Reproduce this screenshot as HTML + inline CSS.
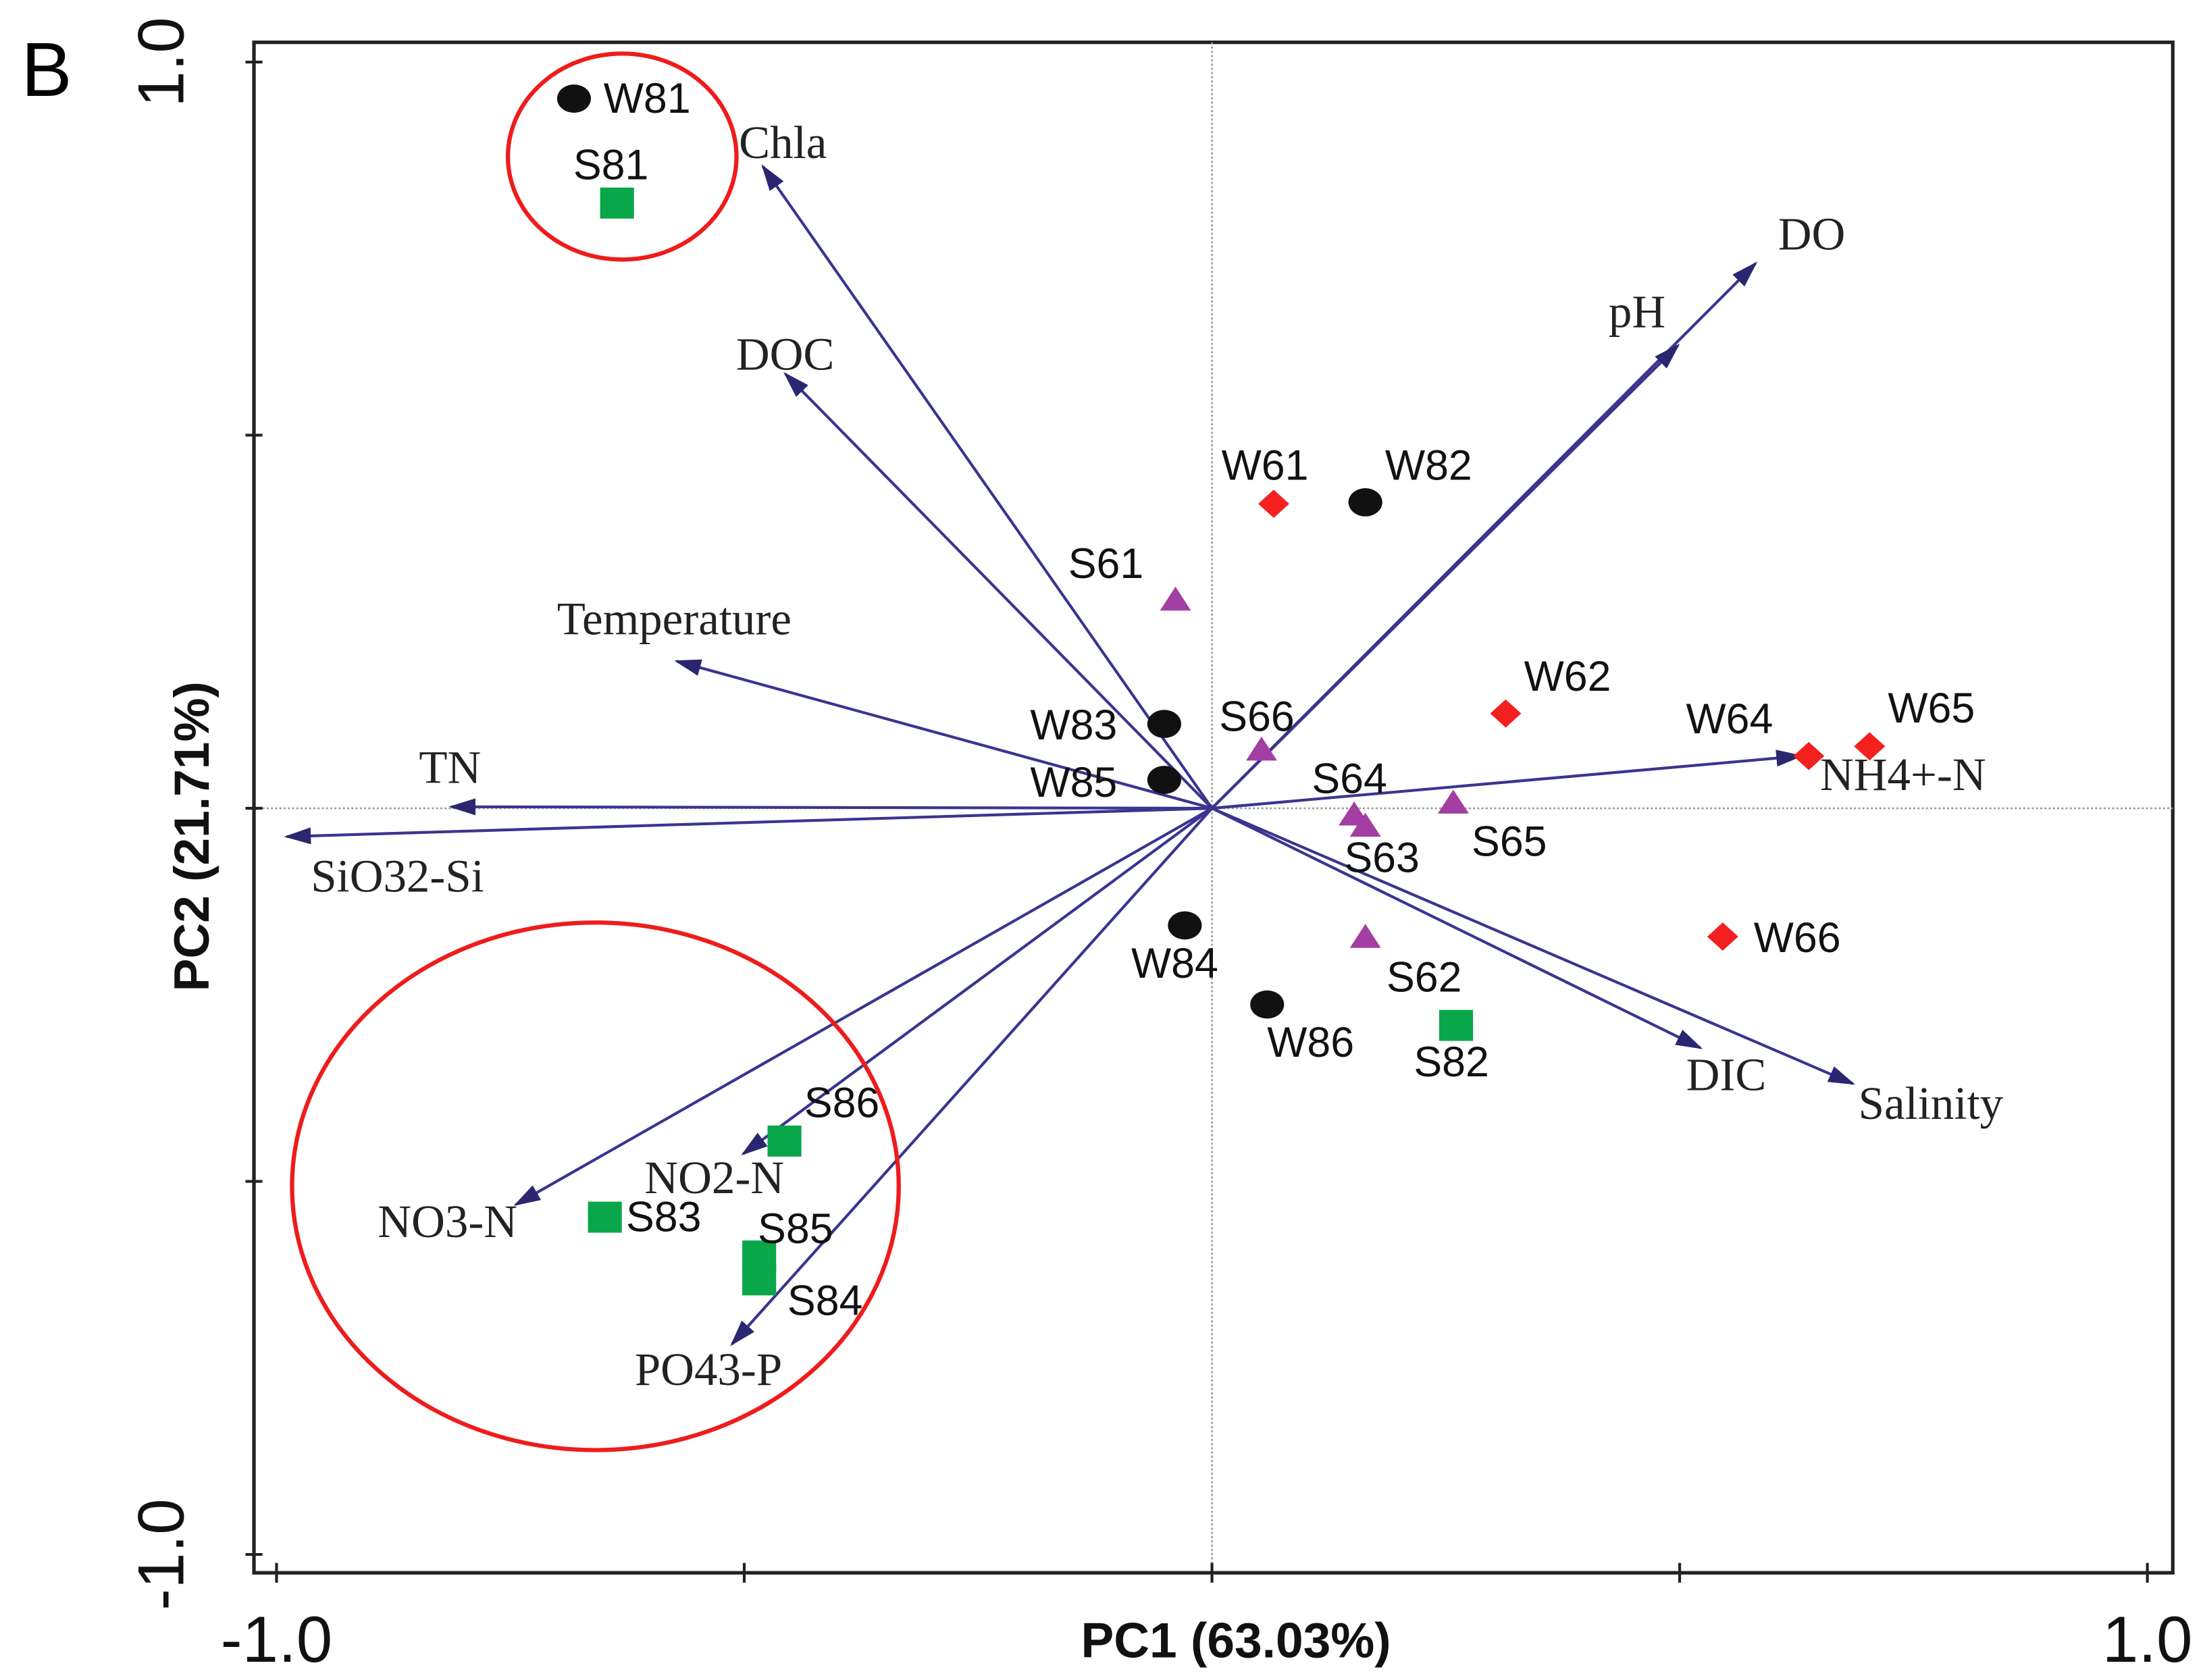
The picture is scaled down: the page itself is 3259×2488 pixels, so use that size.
<!DOCTYPE html>
<html><head><meta charset="utf-8"><style>
html,body{margin:0;padding:0;background:#fff;}
svg{display:block;}
.pl{font-family:"Liberation Sans",Arial,sans-serif;font-size:30px;fill:#111;}
.al{font-family:"Liberation Serif","Times New Roman",serif;font-size:33px;fill:#222;}
</style></head><body>
<svg id="chart" width="3259" height="2488" viewBox="0 0 1560 1191" preserveAspectRatio="none" xmlns="http://www.w3.org/2000/svg">
<defs>
<marker id="ah" viewBox="0 0 20 14" refX="17" refY="7" markerWidth="20" markerHeight="14" orient="auto" markerUnits="userSpaceOnUse">
<path d="M0,1 L19,7 L0,13 z" fill="#2a2670"/>
</marker>
</defs>
<rect x="180" y="30" width="1360" height="1085" fill="none" stroke="#222" stroke-width="2.5"/>
<g id="g"></g>
<text x="15" y="68" font-family="Liberation Sans, sans-serif" font-size="54" fill="#000">B</text>
<text x="876" y="1175" text-anchor="middle" font-family="Liberation Sans, sans-serif" font-weight="bold" font-size="35" fill="#111">PC1 (63.03%)</text>
<text transform="translate(148,593) rotate(-90)" text-anchor="middle" font-family="Liberation Sans, sans-serif" font-weight="bold" font-size="35" fill="#111">PC2 (21.71%)</text>
</svg>
<script>
const xTicks=[-1,-0.5,0,0.5,1];
const yTicks=[-1,-0.5,0,0.5,1];
const xTickLabels=["-1.0","","","","1.0"];
const yTickLabels=["-1.0","","","","1.0"];
const ptNames=["W81","S81","W82","W61","S61","W62","W83","S66","W85","W64","W65","S64","S63","S65","W84","W66","S62","W86","S82","S86","S83","S85","S84"];
const ptX=[-0.682,-0.636,0.164,0.066,-0.039,0.314,-0.051,0.053,-0.051,0.638,0.703,0.152,0.164,0.258,-0.029,0.546,0.164,0.059,0.261,-0.457,-0.649,-0.484,-0.484];
const ptY=[0.951,0.811,0.410,0.408,0.280,0.127,0.113,0.079,0.038,0.070,0.083,-0.008,-0.023,0.008,-0.157,-0.172,-0.172,-0.263,-0.291,-0.446,-0.548,-0.600,-0.632];
const ptGroup=["W8","S8","W8","W6","S6","W6","W8","S6","W8","W6","W6","S6","S6","S6","W8","W6","S6","W8","S8","S8","S8","S8","S8"];
const ptLabDx=[21,-31,14,-37,-76,13,-95,-30,-95,-87,13,-30,-15,13,-38,22,15,0,-30,14,15,-1,20];
const ptLabDy=[10,-17,-16,-17,-15,-16,11,-13,12,-16,-17,-15,33,38,37,11,39,37,36,-17,10,-9,25];
const varNames=["Chla","DOC","Temperature","TN","SiO32-Si","NO3-N","NO2-N","PO43-P","DO","pH","NH4+-N","DIC","Salinity"];
const varX=[-0.480,-0.456,-0.572,-0.813,-0.989,-0.744,-0.501,-0.513,0.581,0.498,0.629,0.522,0.685];
const varY=[0.860,0.582,0.197,0.002,-0.038,-0.531,-0.463,-0.718,0.730,0.620,0.070,-0.321,-0.369];
const varLabDx=[-17,-35,-85,-23,17,-98,-70,-69,16,-49,14,-10,4];
const varLabDy=[-6,-3,-19,-17,39,23,28,29,-10,-13,24,30,25];

const X0=859,XS=663,Y0=573,YS=529;
const sx=v=>X0+v*XS, sy=v=>Y0-v*YS;
const NS="http://www.w3.org/2000/svg";
const g=document.getElementById('g');
function mk(t,a,p){const e=document.createElementNS(NS,t);for(const k in a)e.setAttribute(k,a[k]);(p||g).appendChild(e);return e;}

let e=mk('line',{x1:sx(0),x2:sx(0),y1:30,y2:1115,stroke:'#999','stroke-width':1.2,'stroke-dasharray':'1.5,1.5'});


e=mk('line',{x1:180,x2:1540,y1:sy(0),y2:sy(0),stroke:'#999','stroke-width':1.2,'stroke-dasharray':'1.5,1.5'});



xTicks.forEach((v,i)=>{
  const t=mk('line',{x1:sx(v),x2:sx(v),y1:1108,y2:1122,stroke:'#222','stroke-width':2});
  
  
  if(xTickLabels[i]){const l=mk('text',{x:sx(v),y:1178,'text-anchor':'middle','font-family':'Liberation Sans, sans-serif','font-size':46,fill:'#111'});l.textContent=xTickLabels[i];
  
  }
});
yTicks.forEach((v,i)=>{
  const t=mk('line',{x1:174,x2:186,y1:sy(v),y2:sy(v),stroke:'#222','stroke-width':2});
  
  
  if(yTickLabels[i]){const l=mk('text',{transform:`translate(130,${sy(v)}) rotate(-90)`,'text-anchor':'middle','font-family':'Liberation Sans, sans-serif','font-size':46,fill:'#111'});l.textContent=yTickLabels[i];
  
  }
});

varNames.forEach((n,i)=>{
  const a=mk('line',{x1:X0,y1:Y0,x2:sx(varX[i]),y2:sy(varY[i]),stroke:'#3a3590','stroke-width':2,'marker-end':'url(#ah)'});
  
  
  const t=mk('text',{x:sx(varX[i])+varLabDx[i],y:sy(varY[i])+varLabDy[i],class:'al'});t.textContent=n;
  
  
});

e=mk('ellipse',{cx:441,cy:111,rx:81,ry:73,fill:'none',stroke:'#ee1c1c','stroke-width':3});


e=mk('ellipse',{cx:422,cy:841,rx:215,ry:187,fill:'none',stroke:'#ee1c1c','stroke-width':3});



ptNames.forEach((n,i)=>{
  const x=sx(ptX[i]),y=sy(ptY[i]),gr=ptGroup[i];let m;
  if(gr==='W8')m=mk('ellipse',{cx:x,cy:y,rx:12,ry:10,fill:'#111'});
  else if(gr==='S8')m=mk('rect',{x:x-12,y:y-11,width:24,height:22,fill:'#0aa64a'});
  else if(gr==='W6')m=mk('path',{d:`M${x},${y-10}L${x+11},${y}L${x},${y+10}L${x-11},${y}z`,fill:'#f41f1f'});
  else m=mk('path',{d:`M${x},${y-9}L${x+11},${y+8}L${x-11},${y+8}z`,fill:'#a33ea3'});
  
  
  const t=mk('text',{x:x+ptLabDx[i],y:y+ptLabDy[i],class:'pl'});t.textContent=n;
  
  
});
</script>
</body></html>
